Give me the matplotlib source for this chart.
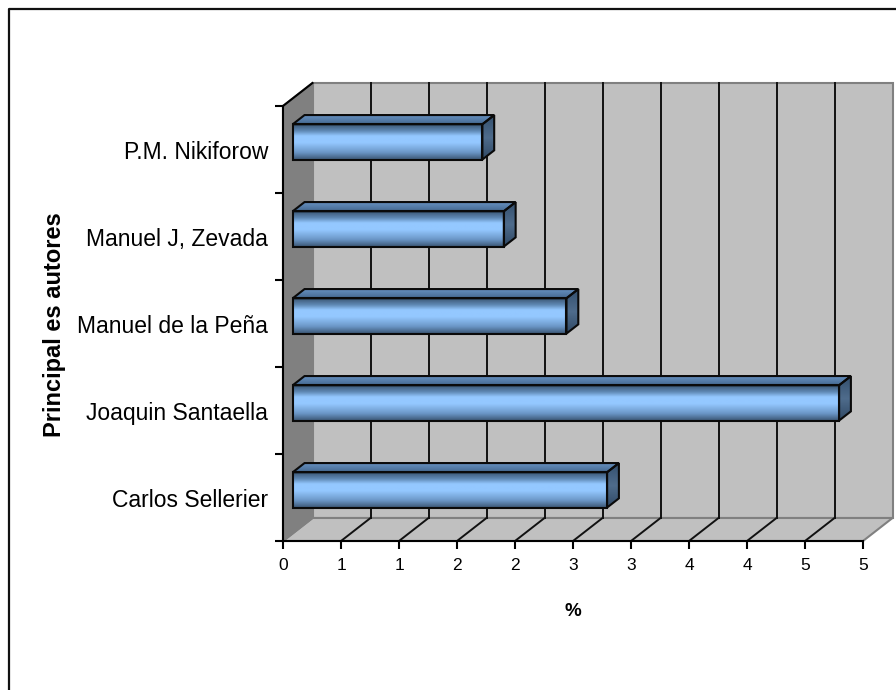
import matplotlib
matplotlib.use("Agg")
import matplotlib.pyplot as plt
from matplotlib.colors import LinearSegmentedColormap
from matplotlib.patches import Polygon
import numpy as np

plt.rcParams['font.family'] = ['Liberation Sans', 'DejaVu Sans']

authors = ["Carlos Sellerier", "Joaquin Santaella", "Manuel de la Peña",
           "Manuel J, Zevada", "P.M. Nikiforow"]
percent = [2.71, 4.71, 2.36, 1.82, 1.635]
x_ticks = [0, 0.5, 1, 1.5, 2, 2.5, 3, 3.5, 4, 4.5, 5]
x_labels = ["0", "1", "1", "2", "2", "3", "3", "4", "4", "5", "5"]

W, H = 896, 690
# plot box in pixels
left, right, top, bottom = 283, 863, 106, 541
# depth of the fake 3D box, in axis units
dep_x = 29.5 / (right - left) * 5
dep_y = 23 / (bottom - top) * 5
bar_h = 35.3 / (bottom - top) * 5
bar_front = 0.33
bar_back = 0.73

front_cmap = LinearSegmentedColormap.from_list(
    "front", [(0, "#3a5472"), (0.2, "#6a95c5"), (0.48, "#94c8ff"), (0.67, "#94c8ff"),
              (0.82, "#5f88b4"), (1, "#3a5674")])
top_cmap = LinearSegmentedColormap.from_list("top", ["#466a92", "#6a95c6"])
side_cmap = LinearSegmentedColormap.from_list(
    "side", [(0, "#2f4864"), (0.5, "#4f6c8c"), (1, "#34506e")])


def d3(x, y, d):
    return x + d * dep_x, y + d * dep_y


def face(ax, pts, **kw):
    ax.add_patch(Polygon(pts, closed=True, **kw))


def shaded(ax, cmap, pts, zorder):
    # gradient runs bottom to top inside the bounding box of pts, clipped to the face
    pts = np.array(pts)
    grad = np.linspace(0, 1, 64).reshape(-1, 1)
    im = ax.imshow(grad, cmap=cmap, origin="lower", aspect="auto", zorder=zorder,
                   extent=(pts[:, 0].min(), pts[:, 0].max(), pts[:, 1].min(), pts[:, 1].max()))
    clip = Polygon(pts, closed=True, transform=ax.transData, fc="none", ec="none")
    ax.add_patch(clip)
    im.set_clip_path(clip)
    im.set_clip_on(True)
    face(ax, pts, fc="none", ec="#0a0a0a", lw=1.5, zorder=zorder + 0.1, joinstyle="miter",
         clip_on=False)


fig = plt.figure(figsize=(W / 100, H / 100), dpi=100, facecolor="white")

# chart frame: only the top and left edges fall inside the image
fig.add_artist(plt.Line2D([9 / W, 9 / W, 1], [0, 1 - 9 / H, 1 - 9 / H], color="#111111", lw=1.6))

ax = fig.add_axes([left / W, 1 - bottom / H, (right - left) / W, (bottom - top) / H])
ax.set_xlim(0, 5)
ax.set_ylim(0, 5)
ax.patch.set_visible(False)
for s in ax.spines.values():
    s.set_visible(False)

edge = "#808080"
# back wall, floor and left wall
face(ax, [d3(0, 0, 1), d3(5, 0, 1), d3(5, 5, 1), d3(0, 5, 1)], fc="#c0c0c0", ec=edge, lw=1.5,
     clip_on=False, zorder=1)
face(ax, [(0, 0), (5, 0), d3(5, 0, 1), d3(0, 0, 1)], fc="#c0c0c0", ec=edge, lw=1.5,
     clip_on=False, zorder=1)
face(ax, [(0, 0), d3(0, 0, 1), d3(0, 5, 1), (0, 5)], fc="#808080", ec=edge, lw=1.5,
     clip_on=False, zorder=1)

# grid on the wall and down across the floor
for t in x_ticks[1:-1]:
    gx, gy = d3(t, 0, 1)
    ax.plot([gx, gx], [gy, d3(t, 5, 1)[1]], color="#111111", lw=1.4, clip_on=False, zorder=2)
    ax.plot([t, gx], [0, gy], color="#111111", lw=1.4, clip_on=False, zorder=2)

# axis lines
ax.plot([0, 0], [0, 5], color="black", lw=1.5, clip_on=False, zorder=3)
ax.plot([0, 5], [0, 0], color="black", lw=1.5, clip_on=False, zorder=3)
ax.plot([0, dep_x], [5, 5 + dep_y], color="black", lw=1.5, clip_on=False, zorder=3)

# bars, each a front face with top and end faces behind it
for i, v in enumerate(percent):
    y0 = i + 0.5 - bar_h / 2
    y1 = i + 0.5 + bar_h / 2
    z = 4 + i * 0.01
    a, b = bar_front, bar_back
    shaded(ax, top_cmap, [d3(0, y1, a), d3(v, y1, a), d3(v, y1, b), d3(0, y1, b)], z)
    shaded(ax, side_cmap, [d3(v, y0, a), d3(v, y1, a), d3(v, y1, b), d3(v, y0, b)], z)
    shaded(ax, front_cmap, [d3(0, y0, a), d3(v, y0, a), d3(v, y1, a), d3(0, y1, a)], z + 0.002)

# imshow resets the limits
ax.set_xlim(0, 5)
ax.set_ylim(0, 5)

ax.set_xticks(x_ticks)
ax.set_xticklabels(x_labels, fontsize=12.5)
ax.set_yticks(range(6))
ax.set_yticklabels([])
ax.tick_params(axis="both", length=6, width=1.5, color="black", labelcolor="black", pad=6)

for i, name in enumerate(authors):
    ax.annotate(name, (0, i + 0.5), xytext=(-15, -3), textcoords="offset pixels", ha="right",
                va="center", fontsize=16.5)

fig.text(573 / W, 1 - 611 / H, "%", fontsize=13.5, fontweight="bold", ha="center", va="center")
fig.text(55 / W, 1 - 324.5 / H, "Principal es autores", fontsize=17, fontweight="bold",
         rotation=90, ha="center", va="center")

fig.savefig("out.png", dpi=100)
